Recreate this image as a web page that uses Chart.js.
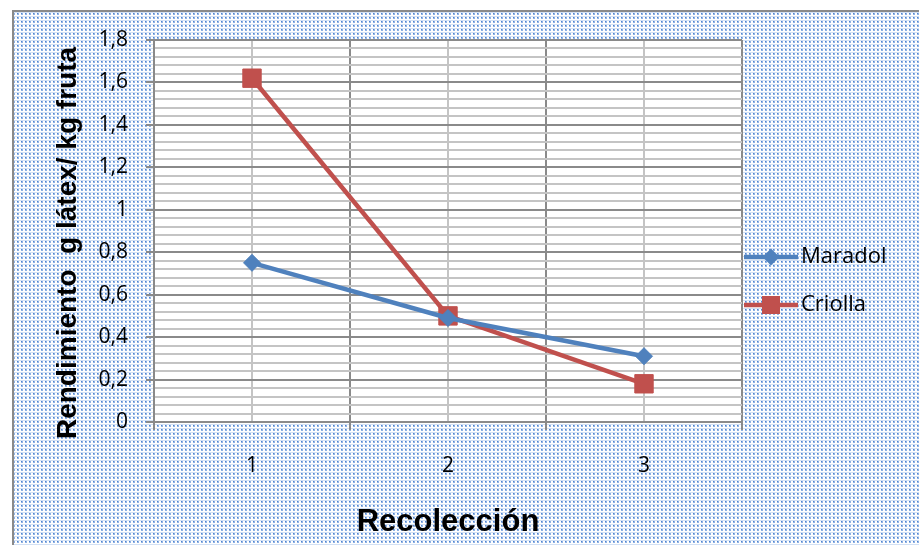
<!DOCTYPE html>
<html>
<head>
<meta charset="utf-8">
<script src="https://cdn.jsdelivr.net/npm/chart.js@4.4.0/dist/chart.umd.min.js"></script>
<style>
  html, body { margin: 0; padding: 0; background: #fff; }
</style>
</head>
<body>
<canvas id="chart" width="919" height="545"></canvas>
<script>
// Data
const categories = [1, 2, 3];
const maradol = [0.75, 0.49, 0.31];
const criolla = [1.62, 0.50, 0.18];
const seriesNames = ["Maradol", "Criolla"];
const xTitle = "Recolección";
const yTitle = "Rendimiento  g látex/ kg fruta";

const BLUE = "#4F81BD";
const RED = "#C0504D";
const GRID_MAJOR = "#8a8a8a";
const GRID_MINOR = "#c4c4c4";
const TICK_FONT = "'Open Sans', Lato, sans-serif";

function isMajorY(v) {
  return Math.abs(v / 0.2 - Math.round(v / 0.2)) < 1e-6;
}
function isBoundaryX(v) {
  return Math.abs(v - Math.floor(v) - 0.5) < 1e-6;
}

// dotted blue background like the original
function makeDots() {
  const c = document.createElement("canvas");
  c.width = 4;
  c.height = 4;
  const g = c.getContext("2d");
  g.fillStyle = "#ffffff";
  g.fillRect(0, 0, 4, 4);
  g.fillStyle = "#d3e1f4";
  g.fillRect(0, 0, 4, 1);
  g.fillStyle = "#8fb2e4";
  g.fillRect(1, 1, 2, 2);
  g.fillStyle = "#4f84d0";
  g.fillRect(1, 1, 1, 1);
  return c;
}

const decor = {
  id: "decor",
  beforeDraw(chart) {
    const ctx = chart.ctx;
    const a = chart.chartArea;
    ctx.save();
    ctx.fillStyle = "#fff";
    ctx.fillRect(0, 0, chart.width, chart.height);
    ctx.fillStyle = ctx.createPattern(makeDots(), "repeat");
    ctx.fillRect(13, 11, chart.width, chart.height);
    ctx.strokeStyle = "#8a8a8a";
    ctx.lineWidth = 2;
    ctx.strokeRect(13, 11, chart.width + 20, chart.height + 20);
    ctx.fillStyle = "#fff";
    ctx.fillRect(a.left, a.top, a.right - a.left, a.bottom - a.top);
    ctx.restore();
  },
  afterDraw(chart) {
    const ctx = chart.ctx;
    const a = chart.chartArea;
    ctx.save();
    ctx.fillStyle = "#000";
    // axis titles
    ctx.font = "bold 31px 'Liberation Sans', Arial, sans-serif";
    ctx.textAlign = "center";
    ctx.textBaseline = "alphabetic";
    ctx.fillText(xTitle, (a.left + a.right) / 2, 531);
    ctx.font = "bold 28px 'Liberation Sans', Arial, sans-serif";
    ctx.translate(76, 243);
    ctx.rotate(-Math.PI / 2);
    ctx.fillText(yTitle, 0, 0);
    ctx.restore();

    // legend: line + marker + name
    const rows = [
      { name: seriesNames[0], color: BLUE, y: 257, shape: "diamond" },
      { name: seriesNames[1], color: RED, y: 305, shape: "square" },
    ];
    ctx.save();
    rows.forEach((r) => {
      ctx.strokeStyle = r.color;
      ctx.lineWidth = 4.5;
      ctx.beginPath();
      ctx.moveTo(744, r.y);
      ctx.lineTo(798, r.y);
      ctx.stroke();
      ctx.fillStyle = r.color;
      ctx.beginPath();
      if (r.shape === "diamond") {
        ctx.moveTo(771 - 8.5, r.y);
        ctx.lineTo(771, r.y - 8.5);
        ctx.lineTo(771 + 8.5, r.y);
        ctx.lineTo(771, r.y + 8.5);
        ctx.closePath();
      } else {
        ctx.rect(771 - 9, r.y - 9, 18, 18);
      }
      ctx.fill();
      ctx.fillStyle = "#000";
      ctx.font = "22px " + TICK_FONT;
      ctx.textAlign = "left";
      ctx.textBaseline = "middle";
      ctx.fillText(r.name, 801, r.y);
    });
    ctx.restore();
  },
};

const ctx = document.getElementById("chart");

new Chart(ctx, {
  type: "line",
  data: {
    datasets: [
      {
        label: seriesNames[0],
        data: maradol.map((v, i) => ({ x: categories[i], y: v })),
        borderColor: BLUE,
        backgroundColor: BLUE,
        borderWidth: 4.5,
        pointStyle: "rectRot",
        pointRadius: 8.5,
        pointBorderWidth: 1,
        pointBorderColor: BLUE,
        pointBackgroundColor: BLUE,
        tension: 0,
      },
      {
        label: seriesNames[1],
        data: criolla.map((v, i) => ({ x: categories[i], y: v })),
        borderColor: RED,
        backgroundColor: RED,
        borderWidth: 4.5,
        pointStyle: "rect",
        pointRadius: 13,
        pointBorderWidth: 1,
        pointBorderColor: RED,
        pointBackgroundColor: RED,
        tension: 0,
      },
    ],
  },
  options: {
    responsive: false,
    animation: false,
    devicePixelRatio: 1,
    layout: {
      padding: { left: 0, top: 40, right: 177, bottom: 0 },
    },
    plugins: {
      legend: { display: false },
      tooltip: { enabled: false },
    },
    scales: {
      x: {
        type: "linear",
        min: 0.5,
        max: 3.5,
        afterFit(scale) {
          scale.height = 123;
        },
        ticks: {
          stepSize: 0.5,
          autoSkip: false,
          padding: 23,
          color: "#000",
          font: { family: TICK_FONT, size: 21 },
          callback: (v) => (Number.isInteger(v) ? String(v) : ""),
        },
        grid: {
          lineWidth: 2,
          tickLength: 8,
          color: (c) => (isBoundaryX(c.tick.value) ? GRID_MAJOR : GRID_MINOR),
          tickColor: (c) => (isBoundaryX(c.tick.value) ? GRID_MAJOR : "rgba(0,0,0,0)"),
        },
        border: { color: GRID_MAJOR, width: 2 },
      },
      y: {
        min: 0,
        max: 1.8,
        afterFit(scale) {
          scale.width = 154;
        },
        ticks: {
          stepSize: 0.04,
          maxTicksLimit: 100,
          autoSkip: false,
          padding: 18,
          color: "#000",
          font: { family: TICK_FONT, size: 21 },
          callback: (v) =>
            isMajorY(v) ? String(Math.round(v * 10) / 10).replace(".", ",") : "",
        },
        grid: {
          lineWidth: 2,
          tickLength: 8,
          color: (c) => (isMajorY(c.tick.value) ? GRID_MAJOR : GRID_MINOR),
          tickColor: (c) => (isMajorY(c.tick.value) ? GRID_MAJOR : "rgba(0,0,0,0)"),
        },
        border: { color: GRID_MAJOR, width: 2 },
      },
    },
  },
  plugins: [decor],
});
</script>
</body>
</html>
